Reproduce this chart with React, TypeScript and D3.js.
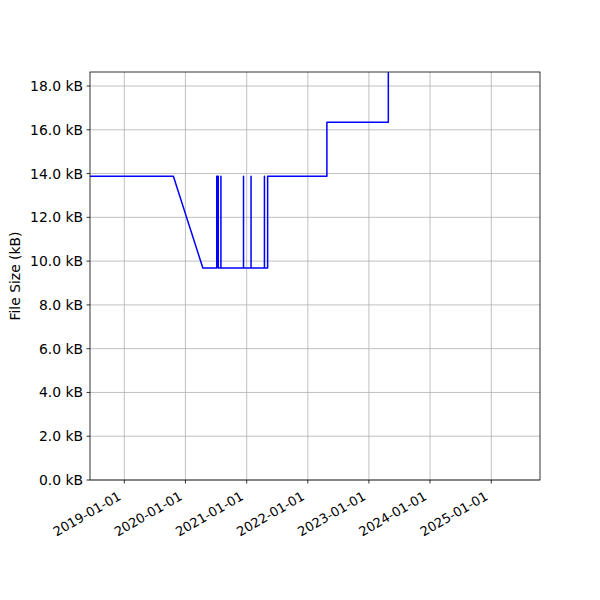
import React from 'react';
import * as d3 from 'd3';

// file size history: [date, size in kB]
const dates: string[] = [
  '2018-06-10', '2019-10-21', '2020-04-14',
  '2020-07-06', '2020-07-06', '2020-07-15', '2020-07-15',
  '2020-07-31', '2020-07-31', '2020-07-31',
  '2020-12-13', '2020-12-13', '2020-12-13',
  '2021-01-27', '2021-01-27', '2021-01-27',
  '2021-04-17', '2021-04-17', '2021-04-17',
  '2021-05-06', '2021-05-06',
  '2022-04-25', '2022-04-25',
  '2023-04-27', '2023-04-27',
];
const sizes: number[] = [
  13.88, 13.88, 9.69,
  9.69, 13.88, 13.88, 9.69,
  9.69, 13.88, 9.69,
  9.69, 13.88, 9.69,
  9.69, 13.88, 9.69,
  9.69, 13.88, 9.69,
  9.69, 13.88,
  13.88, 16.34,
  16.34, 24.0,
];
const yTicks: number[] = [0, 2, 4, 6, 8, 10, 12, 14, 16, 18];
const xTickYears: number[] = [2019, 2020, 2021, 2022, 2023, 2024, 2025];
const xDomain: string[] = ['2018-06-10', '2025-10-19'];
const yMax = 18.64;

const W = 600, H = 600;
const m = { left: 90, right: 540, top: 72, bottom: 480 };
const FONT = 'DejaVu Sans, sans-serif';
const FS = 13.9;

export default function App() {
  const parse = d3.utcParse('%Y-%m-%d');
  const x = d3.scaleUtc()
    .domain(xDomain.map(d => parse(d) as Date))
    .range([m.left, m.right]);
  const y = d3.scaleLinear().domain([0, yMax]).range([m.bottom, m.top]);

  const pts = dates.map((d, i) => [parse(d) as Date, sizes[i]] as [Date, number]);
  const line = d3.line<[Date, number]>()
    .x(d => x(d[0]))
    .y(d => y(d[1]));

  const fmt = d3.utcFormat('%Y-%m-%d');
  const xTicks = xTickYears.map(yr => new Date(Date.UTC(yr, 0, 1)));

  return (
    <svg width={W} height={H} style={{ display: 'block', margin: -8 }} fontFamily={FONT}>
      <rect width={W} height={H} fill="white" />
      <defs>
        <clipPath id="plot">
          <rect x={m.left} y={m.top} width={m.right - m.left} height={m.bottom - m.top} />
        </clipPath>
      </defs>
      {/* grid */}
      {xTicks.map((t, i) => (
        <line key={'gx' + i} x1={x(t)} x2={x(t)} y1={m.top} y2={m.bottom} stroke="#b0b0b0" strokeWidth={0.8} />
      ))}
      {yTicks.map((t, i) => (
        <line key={'gy' + i} x1={m.left} x2={m.right} y1={y(t)} y2={y(t)} stroke="#b0b0b0" strokeWidth={0.8} />
      ))}
      {/* data */}
      <path d={line(pts) ?? ''} fill="none" stroke="blue" strokeWidth={1.5} clipPath="url(#plot)" strokeLinejoin="round" />
      {/* spines */}
      <rect x={m.left} y={m.top} width={m.right - m.left} height={m.bottom - m.top} fill="none" stroke="black" strokeWidth={0.8} />
      {/* y axis */}
      {yTicks.map((t, i) => (
        <g key={'ty' + i}>
          <line x1={m.left - 3.5} x2={m.left} y1={y(t)} y2={y(t)} stroke="black" strokeWidth={0.8} />
          <text x={m.left - 7} y={y(t)} textAnchor="end" dominantBaseline="central" fontSize={FS}>
            {t.toFixed(1)} kB
          </text>
        </g>
      ))}
      {/* x axis */}
      {xTicks.map((t, i) => (
        <g key={'tx' + i}>
          <line x1={x(t)} x2={x(t)} y1={m.bottom} y2={m.bottom + 3.5} stroke="black" strokeWidth={0.8} />
          <text
            transform={`translate(${x(t) - 4.6},${m.bottom + 15}) rotate(-30)`}
            textAnchor="end"
            dominantBaseline="central"
            fontSize={13}
          >
            {fmt(t)}
          </text>
        </g>
      ))}
      <text transform={`translate(20,${(m.top + m.bottom) / 2}) rotate(-90)`} textAnchor="middle" fontSize={FS}>
        File Size (kB)
      </text>
    </svg>
  );
}
